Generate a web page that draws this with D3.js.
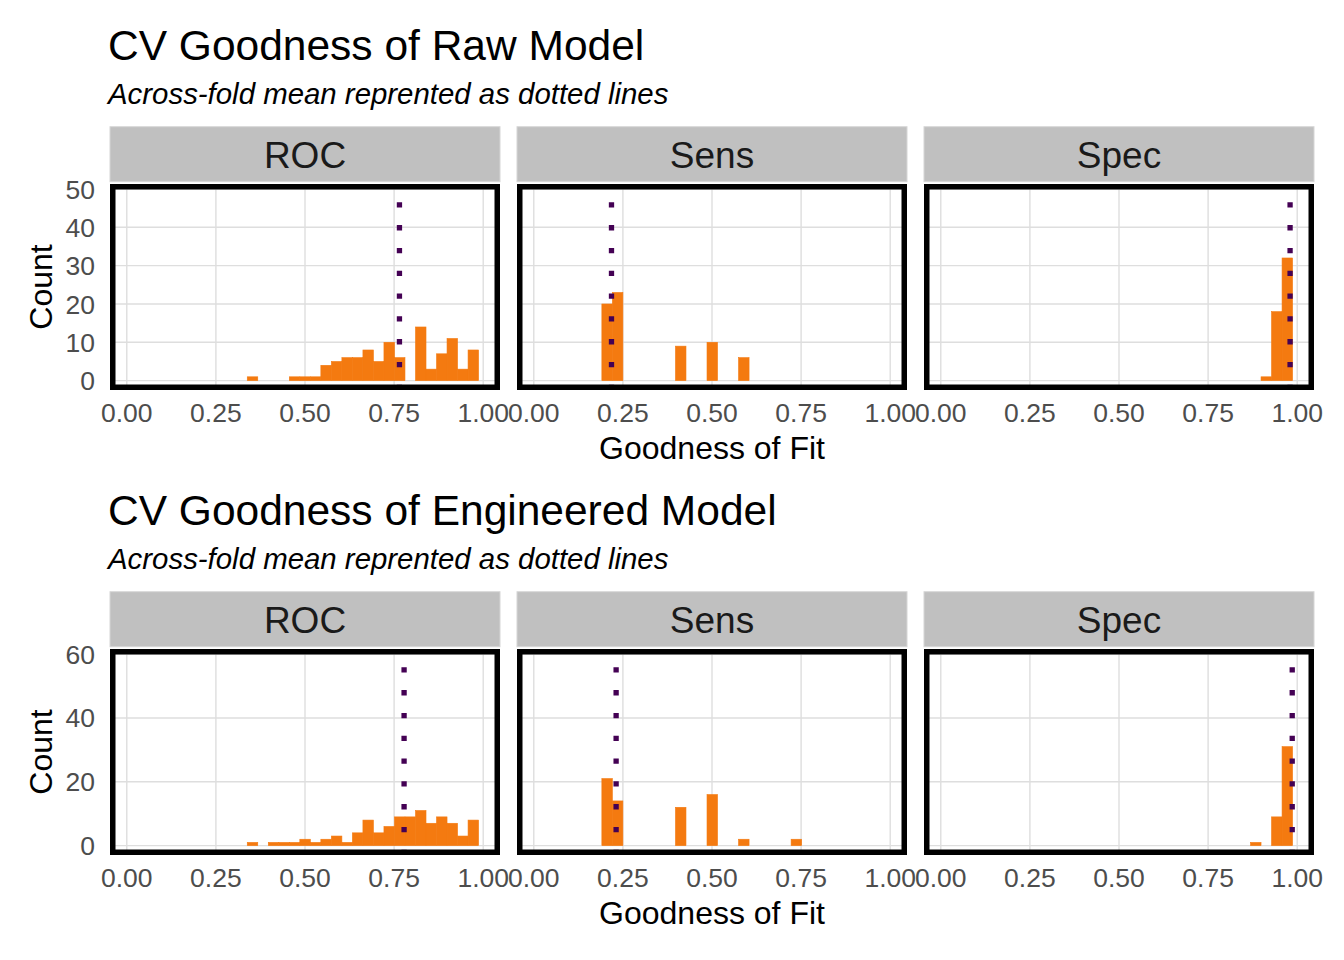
<!DOCTYPE html>
<meta charset="utf-8">
<style>
body { margin: 0; background: #fff; }
text { font-family: "Liberation Sans", Arial, Helvetica, sans-serif; }
.grid line { stroke: #dedede; stroke-width: 1.4; }
.bar { fill: #f47a10; stroke: #f47a10; stroke-width: 0.6; }
.mean { stroke: #440154; stroke-width: 5.3; stroke-dasharray: 5.3 17.5; fill: none; }
.border { fill: none; stroke: #000; stroke-width: 5.5; }
.strip { fill: #c0c0c0; stroke: #d6d6d6; stroke-width: 1; }
.tick-label { fill: #4d4d4d; font-size: 26.5px; }
</style>
<body>
<script src="https://d3js.org/d3.v7.min.js"></script>
<script>

// facet names and shared bin width of the histograms
var metrics = ["ROC", "Sens", "Spec"];
var binWidth = 0.0295;

// raw model: bin left edges and counts
var rawRocX0 = [0.338, 0.456, 0.4855, 0.515, 0.5445, 0.574, 0.6035, 0.633, 0.6625, 0.692, 0.7215, 0.751, 0.810, 0.8395, 0.869, 0.8985, 0.928, 0.9575];
var rawRocCount = [1, 1, 1, 1, 4, 5, 6, 6, 8, 5, 10, 6, 14, 3, 7, 11, 3, 8];
var rawSensX0 = [0.191, 0.2205, 0.3975, 0.486, 0.5745];
var rawSensCount = [20, 23, 9, 10, 6];
var rawSpecX0 = [0.8985, 0.928, 0.9575];
var rawSpecCount = [1, 18, 32];
var rawMeans = [0.765, 0.218, 0.980];

// engineered model
var engRocX0 = [0.338, 0.397, 0.4265, 0.456, 0.4855, 0.515, 0.5445, 0.574, 0.6035, 0.633, 0.6625, 0.692, 0.7215, 0.751, 0.7805, 0.810, 0.8395, 0.869, 0.8985, 0.928, 0.9575];
var engRocCount = [1, 1, 1, 1, 2, 1, 2, 3, 1, 4, 8, 4, 6, 9, 9, 11, 7, 9, 7, 3, 8];
var engSensX0 = [0.191, 0.2205, 0.3975, 0.486, 0.5745, 0.722];
var engSensCount = [21, 14, 12, 16, 2, 2];
var engSpecX0 = [0.869, 0.928, 0.9575];
var engSpecCount = [1, 9, 31];
var engMeans = [0.778, 0.231, 0.986];

// tick values
var xTicks = [0, 0.25, 0.5, 0.75, 1];
var rawYTicks = [0, 10, 20, 30, 40, 50];
var engYTicks = [0, 20, 40, 60];

function zip(x0s, counts) {
  return x0s.map(function(x0, i) { return {x0: x0, x1: x0 + binWidth, count: counts[i]}; });
}

var plots = [
  {
    title: "CV Goodness of Raw Model",
    bins: [zip(rawRocX0, rawRocCount), zip(rawSensX0, rawSensCount), zip(rawSpecX0, rawSpecCount)],
    means: rawMeans, yTicks: rawYTicks, yDomain: [-2.44, 51.3], top: 0
  },
  {
    title: "CV Goodness of Engineered Model",
    bins: [zip(engRocX0, engRocCount), zip(engSensX0, engSensCount), zip(engSpecX0, engSpecCount)],
    means: engMeans, yTicks: engYTicks, yDomain: [-2.94, 61.6], top: 465
  }
];

var panelLefts = [110, 517, 924], panelW = 390, panelH = 206;

var svg = d3.select("body").append("svg")
    .attr("width", 1344)
    .attr("height", 960);

plots.forEach(function(p) {
  var g = svg.append("g").attr("transform", "translate(0," + p.top + ")");
  var pTop = 184, pBottom = pTop + panelH;

  g.append("text").attr("x", 108).attr("y", 60)
      .style("font-size", "42.5px").text(p.title);
  g.append("text").attr("x", 108).attr("y", 104)
      .style("font-size", "29.4px").style("font-style", "italic")
      .text("Across-fold mean reprented as dotted lines");

  var y = d3.scaleLinear().domain(p.yDomain).range([pBottom, pTop]);

  metrics.forEach(function(m, i) {
    var left = panelLefts[i];
    var x = d3.scaleLinear().domain([-0.0471, 1.0471]).range([left, left + panelW]);

    // strip
    g.append("rect").attr("class", "strip")
        .attr("x", left).attr("y", 126.7).attr("width", panelW).attr("height", 55);
    g.append("text").attr("x", left + panelW / 2).attr("y", 167.5)
        .attr("text-anchor", "middle").style("font-size", "37px").style("fill", "#1a1a1a")
        .text(m);

    // grid
    var grid = g.append("g").attr("class", "grid");
    grid.selectAll(".gx").data(xTicks).enter().append("line")
        .attr("x1", function(d) { return x(d); }).attr("x2", function(d) { return x(d); })
        .attr("y1", pTop).attr("y2", pBottom);
    grid.selectAll(".gy").data(p.yTicks).enter().append("line")
        .attr("x1", left).attr("x2", left + panelW)
        .attr("y1", function(d) { return y(d); }).attr("y2", function(d) { return y(d); });

    // histogram bars
    g.selectAll(".bar-" + i).data(p.bins[i]).enter().append("rect")
        .attr("class", "bar")
        .attr("x", function(d) { return x(d.x0); })
        .attr("width", function(d) { return x(d.x1) - x(d.x0); })
        .attr("y", function(d) { return y(d.count); })
        .attr("height", function(d) { return y(0) - y(d.count); });

    // across-fold mean, drawn bottom to top so the dots start at the bottom
    g.append("path").attr("class", "mean")
        .attr("d", d3.line()([[x(p.means[i]), pBottom], [x(p.means[i]), pTop]]));

    // panel border (outer edge on panel bounds)
    g.append("rect").attr("class", "border")
        .attr("x", left + 2.75).attr("y", pTop + 2.75)
        .attr("width", panelW - 5.5).attr("height", panelH - 5.5);

    // x tick labels
    g.selectAll(".xl-" + i).data(xTicks).enter().append("text")
        .attr("class", "tick-label")
        .attr("x", function(d) { return x(d); }).attr("y", 421.5)
        .attr("text-anchor", "middle")
        .text(d3.format(".2f"));
  });

  // y tick labels
  g.selectAll(".yl").data(p.yTicks).enter().append("text")
      .attr("class", "tick-label")
      .attr("x", 95).attr("y", function(d) { return y(d); })
      .attr("dy", "0.36em").attr("text-anchor", "end")
      .text(function(d) { return d; });

  // axis titles
  g.append("text").attr("transform", "translate(52," + (pTop + panelH / 2) + ") rotate(-90)")
      .attr("text-anchor", "middle").style("font-size", "32px").text("Count");
  g.append("text").attr("x", panelLefts[1] + panelW / 2).attr("y", 458.5)
      .attr("text-anchor", "middle").style("font-size", "32px").text("Goodness of Fit");
});

</script>
</body>
